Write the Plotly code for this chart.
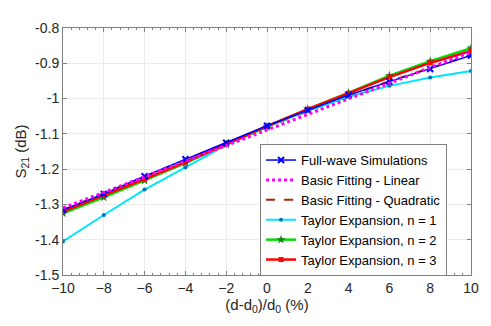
import plotly.graph_objects as go

# percent change of d from d0
x = [-10, -8, -6, -4, -2, 0, 2, 4, 6, 8, 10]

full_wave = [-1.315, -1.270, -1.220, -1.172, -1.125, -1.077, -1.033, -0.990, -0.952, -0.916, -0.878]
fit_linear = [-1.310, -1.266, -1.222, -1.177, -1.133, -1.089, -1.045, -1.001, -0.957, -0.912, -0.868]
fit_quad = [-1.316, -1.268, -1.220, -1.173, -1.126, -1.080, -1.035, -0.992, -0.951, -0.913, -0.876]
taylor_1 = [-1.405, -1.330, -1.258, -1.195, -1.132, -1.080, -1.035, -0.995, -0.964, -0.940, -0.922]
taylor_2 = [-1.325, -1.280, -1.232, -1.183, -1.130, -1.080, -1.030, -0.984, -0.935, -0.894, -0.857]
taylor_3 = [-1.320, -1.275, -1.228, -1.180, -1.128, -1.078, -1.030, -0.985, -0.939, -0.899, -0.865]

x_ticks = [-10, -8, -6, -4, -2, 0, 2, 4, 6, 8, 10]
y_ticks = [-1.5, -1.4, -1.3, -1.2, -1.1, -1.0, -0.9, -0.8]
y_labels = ['-1.5', '-1.4', '-1.3', '-1.2', '-1.1', '-1', '-0.9', '-0.8']

FONT = 'Liberation Sans, Arial'

fig = go.Figure()

fig.add_trace(go.Scatter(x=x, y=fit_quad, name='Basic Fitting - Quadratic', mode='lines',
                         line=dict(color='#a52a00', width=2, dash='dash'), legendrank=3))
fig.add_trace(go.Scatter(x=x, y=taylor_1, name='Taylor Expansion, n = 1', mode='lines+markers',
                         line=dict(color='#00e5ff', width=2),
                         marker=dict(symbol='circle', size=4, color='#0072bd'), legendrank=4))
fig.add_trace(go.Scatter(x=x, y=taylor_2, name='Taylor Expansion, n = 2', mode='lines+markers',
                         line=dict(color='#00dd00', width=2.5),
                         marker=dict(symbol='star', size=7, color='#1a7a1a'), legendrank=5))
fig.add_trace(go.Scatter(x=x, y=taylor_3, name='Taylor Expansion, n = 3', mode='lines+markers',
                         line=dict(color='#ff0000', width=2.5),
                         marker=dict(symbol='square', size=5, color='#ff0000'), legendrank=6))
fig.add_trace(go.Scatter(x=x, y=full_wave, name='Full-wave Simulations', mode='lines+markers',
                         line=dict(color='#0000ff', width=1.5),
                         marker=dict(symbol='x-thin', size=6, line=dict(color='#0000ff', width=2)),
                         legendrank=1))
fig.add_trace(go.Scatter(x=x, y=fit_linear, name='Basic Fitting - Linear', mode='lines',
                         line=dict(color='#ff00ff', width=3, dash='dot'), legendrank=2))

axis_common = dict(showline=True, linecolor='#808080', linewidth=1, mirror='ticks',
                   showgrid=True, gridcolor='#ececec', gridwidth=1,
                   ticks='inside', ticklen=4, tickcolor='#808080', zeroline=False,
                   tickfont=dict(family=FONT, size=14, color='#262626'))

fig.update_xaxes(range=[-10, 10], tickvals=x_ticks,
                 minor=dict(ticks='inside', ticklen=2, dtick=0.4, tickcolor='#808080', showgrid=False),
                 title=dict(text='(d-d<sub>0</sub>)/d<sub>0</sub> (%)', standoff=3,
                            font=dict(family=FONT, size=15, color='#262626')),
                 **axis_common)
fig.update_yaxes(range=[-1.5, -0.8], tickvals=y_ticks, ticktext=y_labels,
                 title=dict(text='S<sub>21</sub> (dB)', standoff=4,
                            font=dict(family=FONT, size=15, color='#262626')),
                 **axis_common)

# the page body adds an 8px offset, so margins are shifted to compensate
fig.update_layout(
    width=491, height=326,
    paper_bgcolor='white', plot_bgcolor='white',
    margin=dict(l=55, r=28, t=17, b=59),
    showlegend=True,
    legend=dict(x=0.483, y=0.53, xanchor='left', yanchor='top',
                bgcolor='white', bordercolor='#808080', borderwidth=1,
                font=dict(family=FONT, size=13, color='#000000'),
                itemwidth=30, tracegroupgap=0, traceorder='normal'),
)

fig.write_html("out.html")
